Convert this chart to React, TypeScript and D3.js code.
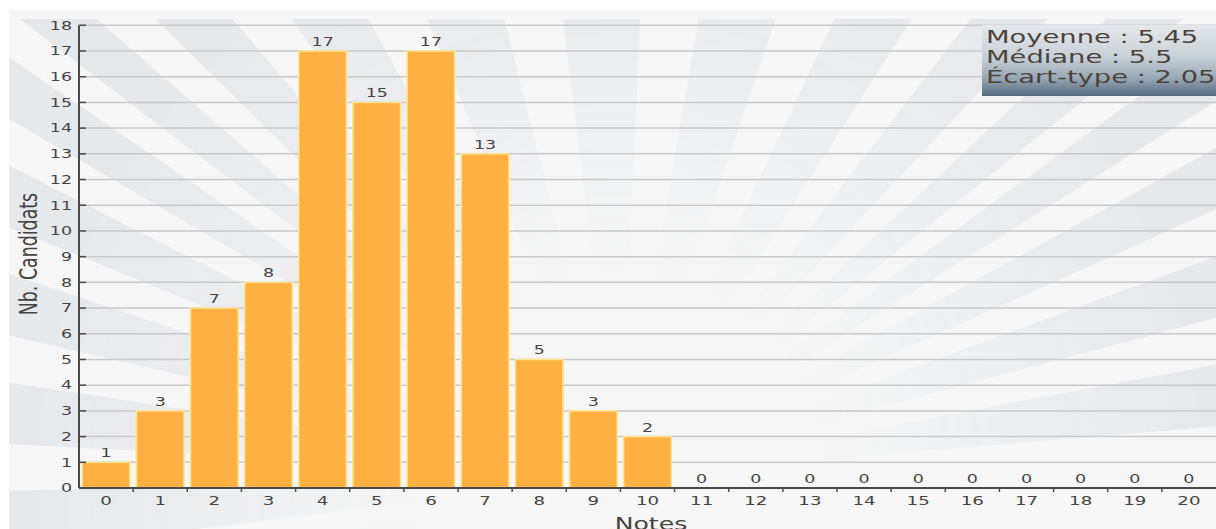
import React, { useMemo } from 'react';
import * as d3 from 'd3';

// Grade distribution (notes 0–20) and number of candidates per grade
const notes = ['0', '1', '2', '3', '4', '5', '6', '7', '8', '9', '10', '11', '12', '13', '14', '15', '16', '17', '18', '19', '20'];
const candidats = [1, 3, 7, 8, 17, 15, 17, 13, 5, 3, 2, 0, 0, 0, 0, 0, 0, 0, 0, 0, 0];
const yTickValues = [0, 1, 2, 3, 4, 5, 6, 7, 8, 9, 10, 11, 12, 13, 14, 15, 16, 17, 18];
const statLines = ['Moyenne : 5.45', 'Médiane : 5.5', 'Écart-type : 2.05'];

const W = 1216;
const H = 529;
const FONT = '"DejaVu Sans", Verdana, sans-serif';
const SX = 1.52; // horizontal glyph stretch used by the chart's text
const TEXT = '#474340';

const plot = { left: 79, right: 1216, top: 25.3, bottom: 488 };
const panel = { x: 9, y: 10 };

function SText({ x, y, size, anchor = 'middle', fill = TEXT, sx = SX, children }: any) {
  return (
    <text
      transform={`translate(${x},${y}) scale(${sx},1)`}
      textAnchor={anchor}
      fontFamily={FONT}
      fontSize={size}
      fill={fill}
    >
      {children}
    </text>
  );
}

export default function App() {
  const x = useMemo(
    () => d3.scaleBand<string>().domain(notes).range([plot.left, plot.right]).paddingInner(0.12).paddingOuter(0.06),
    []
  );
  const y = useMemo(() => d3.scaleLinear().domain([0, 18]).range([plot.bottom, plot.top]), []);

  // Sunburst rays of the background, spread evenly along the panel's outline
  const rays = useMemo(() => {
    const cx = 620, cy = 476, refY = 20;
    const L = panel.x, R = W;
    const period = 135.5, grayW = 77, start = 21;
    const perim = (p: number): [number, number] => {
      if (p < L) return [L, refY + (L - p) * 0.8];
      if (p > R) return [R, refY + (p - R) * 0.8];
      return [p, refY];
    };
    const ext = ([px, py]: [number, number]): [number, number] => [cx + (px - cx) * 2.5, cy + (py - cy) * 2.5];
    const out: string[] = [];
    for (let k = -6; k <= 12; k++) {
      const a = start + k * period;
      const b = a + grayW;
      const pts: [number, number][] = [[cx, cy], ext(perim(a))];
      if (a < L && b > L) pts.push(ext([L, refY]));
      if (a < R && b > R) pts.push(ext([R, refY]));
      pts.push(ext(perim(b)));
      out.push(d3.line()(pts) + 'Z');
    }
    return out;
  }, []);

  const step = x.step();
  const halfGap = (x.paddingInner() * step) / 2;
  const bw = x.bandwidth();

  return (
    <svg width={W} height={H} style={{ position: 'absolute', left: 0, top: 0 }}>
      <defs>
        <clipPath id="panelClip">
          <rect x={panel.x} y={19} width={W - panel.x} height={H - 19} />
        </clipPath>
        <radialGradient id="rayFade" gradientUnits="userSpaceOnUse" cx={620} cy={476} r={660}>
          <stop offset="0" stopColor="#fff" stopOpacity={0} />
          <stop offset="0.3" stopColor="#fff" stopOpacity={0} />
          <stop offset="0.7" stopColor="#fff" stopOpacity={0.8} />
          <stop offset="0.9" stopColor="#fff" stopOpacity={1} />
        </radialGradient>
        <mask id="rayMask" maskUnits="userSpaceOnUse" x={0} y={0} width={W} height={H}>
          <rect x={0} y={0} width={W} height={H} fill="url(#rayFade)" />
        </mask>
        <linearGradient id="statsFill" x1="0" y1="0" x2="0" y2="1">
          <stop offset="0" stopColor="#e4e8ec" />
          <stop offset="0.45" stopColor="#c8d0d7" />
          <stop offset="0.75" stopColor="#97a7b5" />
          <stop offset="1" stopColor="#566c80" />
        </linearGradient>
      </defs>

      <rect x={0} y={0} width={W} height={H} fill="#ffffff" />
      <rect x={panel.x} y={panel.y} width={W - panel.x} height={H - panel.y} fill="#f6f6f6" />
      <g clipPath="url(#panelClip)">
        <g mask="url(#rayMask)">
          {rays.map((d, i) => (
            <path key={i} d={d} fill="#e6e9ec" />
          ))}
        </g>
      </g>

      {/* horizontal grid */}
      {yTickValues.filter((v) => v > 0).map((v) => (
        <line key={`g${v}`} x1={plot.left} x2={plot.right} y1={y(v)} y2={y(v)} stroke="#c9c9c9" strokeWidth={1.5} />
      ))}

      {/* bars */}
      {candidats.map((v, i) =>
        v > 0 ? (
          <rect
            key={`b${i}`}
            x={x(notes[i])!}
            y={y(v)}
            width={bw}
            height={plot.bottom - y(v)}
            fill="#ffb043"
            stroke="#fde68f"
            strokeWidth={1.5}
          />
        ) : null
      )}

      {/* value labels */}
      {candidats.map((v, i) => (
        <SText key={`v${i}`} x={x(notes[i])! + bw / 2} y={y(v) - 5} size={11.5}>
          {v}
        </SText>
      ))}

      {/* y axis */}
      <line x1={plot.left} x2={plot.left} y1={plot.top} y2={plot.bottom} stroke="#4a4a4a" strokeWidth={2} />
      {yTickValues.map((v) => (
        <g key={`yt${v}`}>
          <line x1={plot.left} x2={plot.left + 7} y1={y(v)} y2={y(v)} stroke="#4a4a4a" strokeWidth={1.5} />
          <SText x={72} y={y(v) + 4.3} size={11.5} anchor="end">
            {v}
          </SText>
        </g>
      ))}

      {/* x axis */}
      <line x1={plot.left} x2={plot.right} y1={plot.bottom} y2={plot.bottom} stroke="#4a4a4a" strokeWidth={2} />
      {notes.map((n, i) => (
        <g key={`xt${n}`}>
          {i > 0 ? (
            <line
              x1={x(n)! - halfGap}
              x2={x(n)! - halfGap}
              y1={plot.bottom}
              y2={plot.bottom + 4}
              stroke="#4a4a4a"
              strokeWidth={1.5}
            />
          ) : null}
          <SText x={x(n)! + bw / 2} y={505} size={12}>
            {n}
          </SText>
        </g>
      ))}

      {/* axis titles */}
      <text
        transform={`translate(37,254) scale(1.4,1) rotate(-90)`}
        textAnchor="middle"
        fontFamily={FONT}
        fontSize={17.4}
        fill={TEXT}
      >
        Nb. Candidats
      </text>
      <SText x={651} y={530} size={18} sx={1.4}>
        Notes
      </SText>

      {/* statistics box */}
      <rect x={982} y={25} width={W - 982} height={71} fill="url(#statsFill)" />
      {statLines.map((s, i) => (
        <SText key={s} x={986} y={43 + i * 20} size={18} anchor="start" fill="#4d4339">
          {s}
        </SText>
      ))}
    </svg>
  );
}
